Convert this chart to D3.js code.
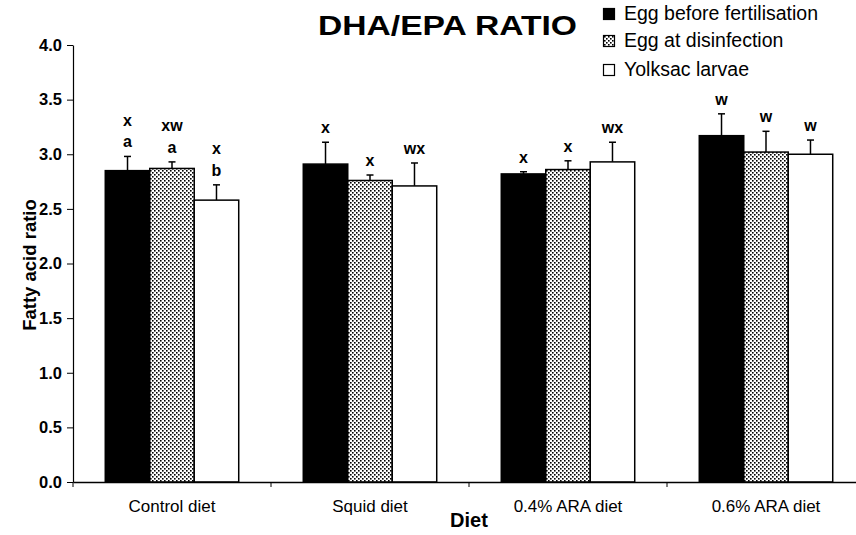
<!DOCTYPE html>
<html><head><meta charset="utf-8">
<script src="https://cdn.jsdelivr.net/npm/d3@7"></script>
<style>body{margin:0;background:#fff;} svg{display:block;font-family:Arial,"Liberation Sans",sans-serif;}</style>
</head><body><svg id="c" width="856" height="535"></svg>
<script>
const diets = ["Control diet", "Squid diet", "0.4% ARA diet", "0.6% ARA diet"];
const seriesNames = ["Egg before fertilisation", "Egg at disinfection", "Yolksac larvae"];
const eggBefore = [2.85, 2.91, 2.82, 3.17];
const eggBeforeErr = [0.13, 0.20, 0.02, 0.20];
const eggDisinf = [2.87, 2.76, 2.86, 3.02];
const eggDisinfErr = [0.06, 0.05, 0.08, 0.19];
const yolksac = [2.58, 2.71, 2.93, 3.00];
const yolksacErr = [0.14, 0.21, 0.18, 0.13];
// significance letters per diet, per series (top line first)
const sigLetters = [
  [["x", "a"], ["xw", "a"], ["x", "b"]],
  [["x"], ["x"], ["wx"]],
  [["x"], ["x"], ["wx"]],
  [["w"], ["w"], ["w"]]
];
const yTicks = [0, 0.5, 1.0, 1.5, 2.0, 2.5, 3.0, 3.5, 4.0];
const titleText = "DHA/EPA RATIO";
const yTitle = "Fatty acid ratio";
const xTitle = "Diet";

const means = [eggBefore, eggDisinf, yolksac];
const errs = [eggBeforeErr, eggDisinfErr, yolksacErr];

const svg = d3.select("#c");
const defs = svg.append("defs");
const pat = defs.append("pattern").attr("id", "dots").attr("patternUnits", "userSpaceOnUse")
  .attr("width", 4).attr("height", 4);
pat.append("rect").attr("width", 4).attr("height", 4).attr("fill", "#fff");
pat.append("rect").attr("x", 0).attr("y", 0).attr("width", 1.6).attr("height", 1.6).attr("fill", "#000");
pat.append("rect").attr("x", 2).attr("y", 2).attr("width", 1.6).attr("height", 1.6).attr("fill", "#000");

const fills = ["#000", "url(#dots)", "#fff"];

const x = d3.scaleBand().domain(diets).range([73, 865]).paddingInner(0).paddingOuter(0);
const bw = x.bandwidth();
const xs = d3.scaleBand().domain(seriesNames).range([bw * 0.163, bw * 0.837]).padding(0);
const y = d3.scaleLinear().domain([0, 4]).range([482, 45]);

const rows = [];
diets.forEach((d, i) => seriesNames.forEach((s, j) => rows.push({d, s, i, j, v: means[j][i], e: errs[j][i], lab: sigLetters[i][j]})));

const g = svg.append("g");
g.selectAll("line.err").data(rows).join("line").attr("class", "err")
  .attr("x1", r => x(r.d) + xs(r.s) + xs.bandwidth() / 2)
  .attr("x2", r => x(r.d) + xs(r.s) + xs.bandwidth() / 2)
  .attr("y1", r => y(r.v)).attr("y2", r => y(r.v + r.e))
  .attr("stroke", "#000").attr("stroke-width", 1.5);
g.selectAll("line.cap").data(rows).join("line").attr("class", "cap")
  .attr("x1", r => x(r.d) + xs(r.s) + xs.bandwidth() / 2 - 3.5)
  .attr("x2", r => x(r.d) + xs(r.s) + xs.bandwidth() / 2 + 3.5)
  .attr("y1", r => y(r.v + r.e)).attr("y2", r => y(r.v + r.e))
  .attr("stroke", "#000").attr("stroke-width", 1.5);

g.selectAll("rect.bar").data(rows).join("rect").attr("class", "bar")
  .attr("x", r => x(r.d) + xs(r.s))
  .attr("width", xs.bandwidth())
  .attr("y", r => y(r.v))
  .attr("height", r => y(0) - y(r.v))
  .attr("fill", r => fills[r.j])
  .attr("stroke", "#000").attr("stroke-width", 1.5);

rows.forEach(r => {
  const cx = x(r.d) + xs(r.s) + xs.bandwidth() / 2;
  const base = y(r.v + r.e) - 9;
  const n = r.lab.length;
  r.lab.forEach((t, k) => {
    g.append("text").attr("x", cx).attr("y", base - (n - 1 - k) * 21.5)
      .attr("text-anchor", "middle").attr("font-size", 16).attr("font-weight", "bold").text(t);
  });
});

const ya = svg.append("g").attr("transform", "translate(73,0)")
  .call(d3.axisLeft(y).tickValues(yTicks).tickFormat(d3.format(".1f")).tickSize(6).tickSizeOuter(0).tickPadding(5));
ya.select(".domain").attr("stroke", "#000").attr("stroke-width", 1.2);
ya.selectAll("text").attr("font-size", 16.5).attr("font-weight", "bold").attr("font-family", "Arial, 'Liberation Sans', sans-serif").attr("fill", "#000");

const xa = svg.append("g").attr("transform", "translate(0,482)")
  .call(d3.axisBottom(x).tickSize(0).tickSizeOuter(0));
xa.select(".domain").attr("stroke", "#000").attr("stroke-width", 1.5);
xa.selectAll("text").attr("y", 30).attr("dy", 0).attr("font-size", 17)
  .attr("font-family", "Arial, 'Liberation Sans', sans-serif").attr("fill", "#000");
const bounds = diets.map(d => x(d)).concat([x.range()[1]]);
xa.selectAll("line.bt").data(bounds).join("line").attr("class", "bt")
  .attr("x1", d => d).attr("x2", d => d).attr("y1", 0).attr("y2", 5)
  .attr("stroke", "#000").attr("stroke-width", 1);

svg.append("text").attr("x", 447.5).attr("y", 35).attr("text-anchor", "middle")
  .attr("font-size", 27).attr("font-weight", "bold").attr("textLength", 259)
  .attr("lengthAdjust", "spacingAndGlyphs").text(titleText);
svg.append("text").attr("transform", "translate(36,265) rotate(-90)").attr("text-anchor", "middle")
  .attr("font-size", 18.5).attr("font-weight", "bold").text(yTitle);
svg.append("text").attr("x", 469).attr("y", 527).attr("text-anchor", "middle")
  .attr("font-size", 20).attr("font-weight", "bold").text(xTitle);

const legBase = [20, 47, 76];
seriesNames.forEach((s, j) => {
  svg.append("rect").attr("x", 603.5).attr("y", legBase[j] - 11.5).attr("width", 11).attr("height", 11)
    .attr("fill", fills[j]).attr("stroke", "#000").attr("stroke-width", 1.2);
  svg.append("text").attr("x", 624).attr("y", legBase[j]).attr("font-size", 19.5).text(s);
});
</script></body></html>
